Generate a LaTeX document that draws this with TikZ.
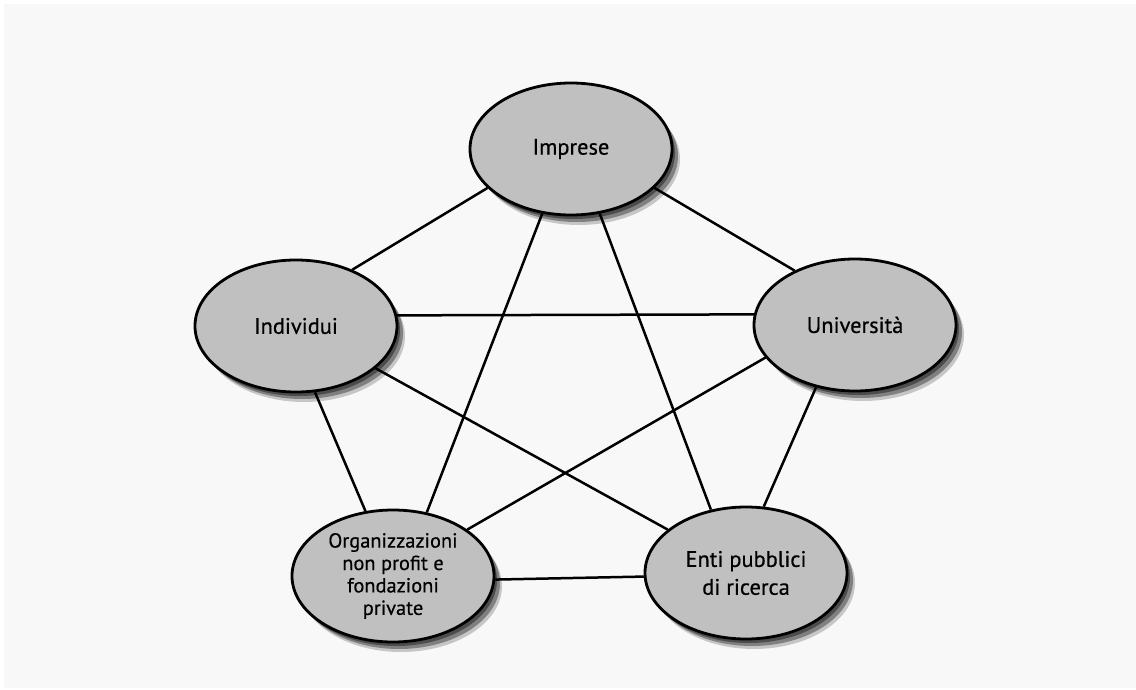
\documentclass[tikz,border=0pt]{standalone}
\usepackage{fontspec}
\setmainfont{PT Sans}[FakeBold=0.5]
\usetikzlibrary{shapes.geometric,shadows,backgrounds}
\definecolor{paper}{RGB}{248,248,248}
\definecolor{bubble}{RGB}{192,192,192}
\begin{document}
\begin{tikzpicture}[x=1bp,y=-1bp,
  actor/.style={ellipse, draw=black, line width=2.8bp, fill=bubble,
    minimum width=202bp, minimum height=132bp, inner sep=0pt, align=center,
    font=\fontsize{22.5}{24}\selectfont,
    drop shadow={shadow xshift=8bp, shadow yshift=-10bp, fill=black, opacity=0.2},
    drop shadow={shadow xshift=6bp, shadow yshift=-7bp, fill=black, opacity=0.35},
    drop shadow={shadow xshift=3bp, shadow yshift=-4bp, fill=black, opacity=0.4}},
  link/.style={line width=2.5bp, draw=black}]
\useasboundingbox (0,0) rectangle (1136,690);
\begin{pgfonlayer}{background}
  \fill[white] (0,0) rectangle (1136,690);
  \fill[paper] (4,4) rectangle (1136,688);
\end{pgfonlayer}

% the five actors
\node[actor] (imp) at (571,149) {Imprese};
\node[actor] (ind) at (296,326) {Individui};
\node[actor] (uni) at (855,325) {Università};
\node[actor, font=\fontsize{20.5}{22.5}\selectfont] (org) at (393,576)
  {Organizzazioni\\non profit e\\fondazioni\\private};
\node[actor, font=\fontsize{22.5}{28}\selectfont] (ent) at (746,573)
  {Enti pubblici\\di ricerca};

% every actor is linked to every other one
\begin{pgfonlayer}{background}
  \draw[link] (imp.205) -- (ind.45);
  \draw[link] (imp.335) -- (uni.138);
  \draw[link] (imp.246) -- (org.62);
  \draw[link] (imp.294) -- (ent.119);
  \draw[link] (ind.6) -- (uni.174);
  \draw[link] (ind.286) -- (org.113);
  \draw[link] (ind.332) -- (ent.151);
  \draw[link] (uni.200) -- (org.32);
  \draw[link] (uni.238) -- (ent.75);
  \draw[link] (org.358) -- (ent.182);
\end{pgfonlayer}
\end{tikzpicture}
\end{document}
